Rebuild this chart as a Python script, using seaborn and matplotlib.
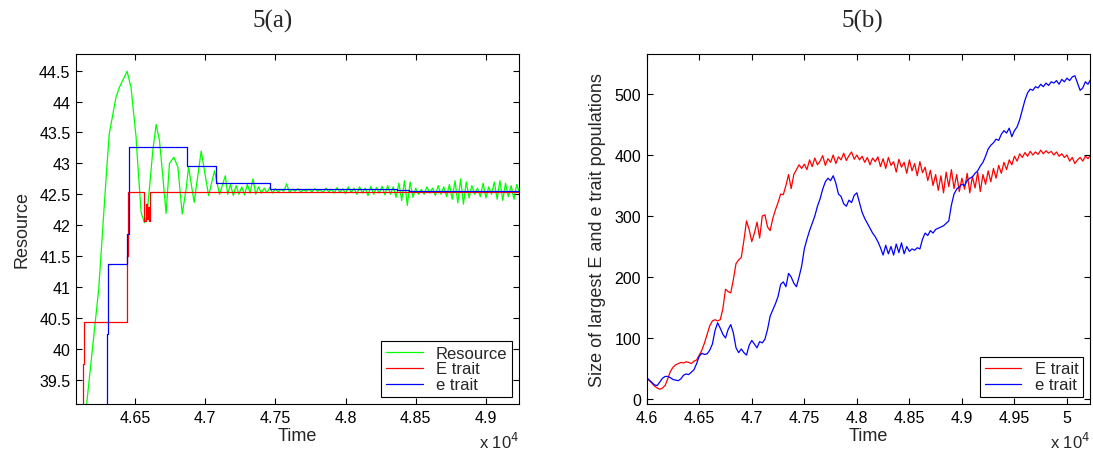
import numpy as np
import pandas as pd
import matplotlib
matplotlib.use('Agg')
import matplotlib.pyplot as plt
from matplotlib.ticker import FuncFormatter
import seaborn as sns

# ---- 5(a): resource level and the two trait levels (time in units of 1e4) ----
# big transient of the resource curve, read point by point
res_head_t = [4.6140, 4.6155, 4.6241, 4.6296, 4.6316, 4.6364, 4.6388, 4.6443, 4.6471, 4.6507,
              4.6519, 4.6543, 4.6566, 4.6584, 4.6602, 4.6626, 4.6650, 4.6674, 4.6698, 4.6721,
              4.6745, 4.6776, 4.6805, 4.6836, 4.6864, 4.6881, 4.6921, 4.6971, 4.7024, 4.7066,
              4.7102, 4.7143]
res_head_v = [38.80, 39.11, 40.97, 42.85, 43.48, 44.07, 44.23, 44.49, 44.23, 43.43,
              43.00, 42.21, 42.04, 42.15, 42.59, 43.20, 43.63, 43.37, 42.78, 42.19,
              43.00, 43.10, 42.94, 42.18, 42.59, 42.94, 42.37, 43.20, 42.48, 42.88,
              42.50, 42.80]
# small ringing afterwards, sampled every 0.002 from 4.716
res_tail_start = 4.716
res_tail_step = 0.002
res_tail_v = [42.50, 42.66, 42.48, 42.64, 42.50, 42.62, 42.49, 42.66, 42.52, 42.75,
              42.50, 42.62, 42.52, 42.60, 42.53, 42.61, 42.52, 42.59, 42.54, 42.58,
              42.55, 42.67, 42.53, 42.58, 42.55, 42.59, 42.54, 42.57, 42.55, 42.58,
              42.54, 42.59, 42.55, 42.57, 42.53, 42.60, 42.54, 42.58, 42.52, 42.61,
              42.53, 42.59, 42.51, 42.62, 42.53, 42.60, 42.50, 42.62, 42.52, 42.60,
              42.48, 42.63, 42.50, 42.61, 42.52, 42.63, 42.49, 42.64, 42.50, 42.62,
              42.45, 42.68, 42.40, 42.72, 42.32, 42.70, 42.45, 42.60, 42.50, 42.58,
              42.50, 42.62, 42.52, 42.60, 42.48, 42.64, 42.50, 42.62, 42.46, 42.66,
              42.42, 42.72, 42.36, 42.75, 42.34, 42.70, 42.44, 42.64, 42.50, 42.60,
              42.46, 42.68, 42.44, 42.62, 42.50, 42.70, 42.42, 42.72, 42.40, 42.68,
              42.46, 42.64, 42.42, 42.66, 42.52]

# step levels of the traits
E_step_t = [4.6100, 4.6126, 4.6137, 4.6440, 4.6452, 4.6566, 4.6576, 4.6582, 4.6590, 4.6596, 4.6603, 4.9240]
E_step_v = [38.80, 39.75, 40.43, 41.50, 42.53, 42.06, 42.35, 42.10, 42.30, 42.06, 42.53, 42.53]
e_step_t = [4.6280, 4.6297, 4.6305, 4.6445, 4.6459, 4.6871, 4.7079, 4.7459, 4.8369, 4.8450, 4.9240]
e_step_v = [38.80, 40.24, 41.37, 41.85, 43.26, 42.96, 42.68, 42.59, 42.565, 42.548, 42.548]

# ---- 5(b): size of largest E and e populations, sampled every 0.0025 from 4.6 ----
pop_start = 4.6
pop_step = 0.0025
pop_E = [35, 30, 26, 21, 18, 16, 18, 22, 33, 45,
         52, 56, 58, 60, 59, 61, 60, 58, 62, 64,
         72, 80, 92, 106, 120, 128, 130, 128, 130, 148,
         180, 176, 174, 196, 222, 228, 232, 260, 292, 278,
         258, 272, 290, 264, 300, 302, 282, 276, 296, 310,
         322, 336, 335, 350, 368, 345, 368, 376, 384, 378,
         385, 376, 392, 381, 395, 384, 390, 399, 383, 394,
         388, 400, 386, 397, 392, 403, 391, 399, 405, 393,
         400, 392, 398, 388, 396, 384, 395, 389, 397, 381,
         394, 378, 396, 383, 389, 372, 393, 380, 388, 370,
         392, 374, 386, 366, 389, 371, 380, 358, 375, 350,
         368, 342, 366, 338, 372, 348, 376, 345, 368, 340,
         362, 344, 370, 338, 365, 346, 372, 340, 368, 352,
         374, 356, 378, 362, 383, 370, 388, 376, 392, 384,
         398, 390, 402, 396, 404, 398, 406, 400, 405, 401,
         408, 402, 407, 403, 406, 400, 405, 398, 402, 396,
         400, 390, 396, 386, 392, 396, 390, 398, 394, 400]
pop_e = [35, 31, 27, 23, 22, 28, 34, 37, 37, 35,
         32, 31, 30, 33, 39, 41, 40, 44, 48, 58,
         70, 75, 73, 74, 80, 90, 112, 125, 116, 106,
         100, 114, 122, 108, 84, 76, 82, 76, 72, 88,
         96, 90, 84, 94, 92, 98, 114, 136, 146, 156,
         168, 188, 192, 184, 206, 200, 190, 184, 200, 218,
         246, 262, 276, 288, 300, 316, 328, 344, 356, 362,
         358, 366, 354, 336, 332, 320, 316, 326, 322, 334,
         338, 322, 306, 296, 288, 280, 272, 266, 258, 248,
         236, 252, 238, 250, 236, 254, 240, 256, 238, 250,
         242, 246, 244, 248, 246, 262, 272, 268, 276, 272,
         278, 280, 282, 284, 288, 292, 318, 336, 344, 348,
         352, 350, 358, 362, 364, 370, 374, 382, 388, 398,
         410, 416, 420, 426, 424, 434, 440, 436, 444, 430,
         440, 446, 458, 474, 490, 502, 508, 506, 512, 510,
         516, 512, 518, 514, 520, 518, 522, 516, 524, 520,
         526, 522, 528, 530, 518, 506, 510, 520, 516, 524]

# build the tables
res_t = res_head_t + list(res_tail_start + res_tail_step * np.arange(len(res_tail_v)))
res_df = pd.DataFrame({'Time': res_t, 'Resource': res_head_v + res_tail_v})
E_df = pd.DataFrame({'Time': E_step_t, 'Level': E_step_v})
e_df = pd.DataFrame({'Time': e_step_t, 'Level': e_step_v})
pop_df = pd.DataFrame({'Time': pop_start + pop_step * np.arange(len(pop_E)),
                       'E': pop_E, 'e': pop_e})

sns.set_style('ticks', {'xtick.direction': 'in', 'ytick.direction': 'in'})
plt.rcParams['font.family'] = ['Liberation Sans', 'DejaVu Sans']

fig = plt.figure(figsize=(10.93, 4.52), dpi=100)
ax_a = fig.add_axes([76 / 1093, 47 / 452, 443 / 1093, 350 / 452])
ax_b = fig.add_axes([646.7 / 1093, 47 / 452, 443.3 / 1093, 350 / 452])

lw = 0.9
fmt = FuncFormatter(lambda v, p: '%g' % round(v, 4))

# Plot 5(a)
sns.lineplot(data=res_df, x='Time', y='Resource', ax=ax_a, color='#00ff00', lw=lw,
             estimator=None, sort=False, label='Resource')
sns.lineplot(data=E_df, x='Time', y='Level', ax=ax_a, color='#ff0000', lw=lw,
             estimator=None, sort=False, drawstyle='steps-post', label='E trait')
sns.lineplot(data=e_df, x='Time', y='Level', ax=ax_a, color='#0000ff', lw=lw,
             estimator=None, sort=False, drawstyle='steps-post', label='e trait')
ax_a.set_xlim(4.6079, 4.9236)
ax_a.set_ylim(39.107, 44.77)
ax_a.set_xticks([4.65, 4.7, 4.75, 4.8, 4.85, 4.9])
ax_a.set_yticks([39.5, 40, 40.5, 41, 41.5, 42, 42.5, 43, 43.5, 44, 44.5])
ax_a.set_ylabel('Resource', fontsize=13, labelpad=6)

# Plot 5(b)
sns.lineplot(data=pop_df, x='Time', y='E', ax=ax_b, color='#ff0000', lw=lw,
             estimator=None, sort=False, label='E trait')
sns.lineplot(data=pop_df, x='Time', y='e', ax=ax_b, color='#0000ff', lw=lw,
             estimator=None, sort=False, label='e trait')
ax_b.set_xlim(4.6, 5.0219)
ax_b.set_ylim(-8.2, 565.6)
ax_b.set_xticks([4.6, 4.65, 4.7, 4.75, 4.8, 4.85, 4.9, 4.95, 5.0])
ax_b.set_yticks([0, 100, 200, 300, 400, 500])
ax_b.set_ylabel('Size of largest E and e trait populations', fontsize=13, labelpad=6)

for ax in (ax_a, ax_b):
    ax.set_xlabel('Time', fontsize=13, labelpad=2)
    ax.xaxis.set_major_formatter(fmt)
    ax.yaxis.set_major_formatter(fmt)
    ax.tick_params(direction='in', top=True, right=True, length=4, width=0.8,
                   labelsize=11.5, pad=4, colors='black')
    for s in ax.spines.values():
        s.set_visible(True)
        s.set_linewidth(0.8)
        s.set_color('black')
    leg = ax.legend(loc='lower right', fontsize=12, frameon=True, fancybox=False,
                    edgecolor='black', framealpha=1, borderaxespad=0.4,
                    handlelength=2.2, labelspacing=0.05, borderpad=0.3)
    leg.get_frame().set_linewidth(0.8)
    ax.text(1.0, -0.105, r'x 10$^{4}$', transform=ax.transAxes, ha='right',
            va='center', fontsize=12)

fig.text(273 / 1093, 1 - 21 / 452, '5(a)', family='Liberation Serif', fontsize=18,
         ha='center', va='center')
fig.text(862 / 1093, 1 - 21 / 452, '5(b)', family='Liberation Serif', fontsize=18,
         ha='center', va='center')

fig.savefig('out.png', dpi=100)
